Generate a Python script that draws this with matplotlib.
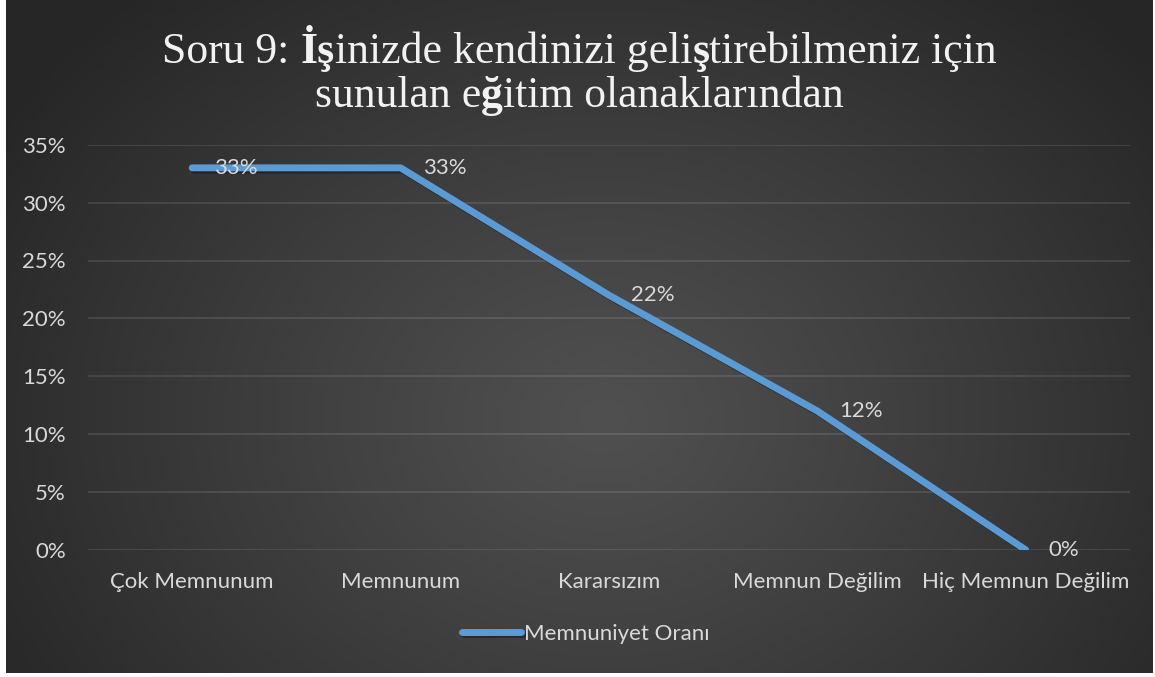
import numpy as np
import matplotlib
matplotlib.use("Agg")
import matplotlib.pyplot as plt
import matplotlib.patheffects as pe
from matplotlib.ticker import PercentFormatter

# ---- data ----
categories = ["Çok Memnunum", "Memnunum", "Kararsızım", "Memnun Değilim", "Hiç Memnun Değilim"]
values = [0.33, 0.33, 0.22, 0.12, 0.0]
value_labels = ["33%", "33%", "22%", "12%", "0%"]
series_name = "Memnuniyet Oranı"
title_line1 = [("Soru 9:", "normal"), (" ", "space"), ("İş", "bold"),
               ("inizde kendinizi geli", "normal"), ("ş", "bold"),
               ("tirebilmeniz için", "normal")]
title_line2 = [("sunulan e", "normal"), ("ğ", "bold"), ("itim olanaklarından", "normal")]
yticks = [0, 0.05, 0.10, 0.15, 0.20, 0.25, 0.30, 0.35]

W, H = 1155, 677
DPI = 100
fig = plt.figure(figsize=(W / DPI, H / DPI), dpi=DPI)
fig.patch.set_facecolor("white")

# ---- radial gradient background ----
bg = fig.add_axes([6 / W, 4 / H, 1147 / W, 673 / H])
bg.set_axis_off()
ny, nx = 340, 580
yy, xx = np.mgrid[0:ny, 0:nx]
cx, cy = nx * 0.52, ny * 0.62
d = np.sqrt(((xx - cx) / (nx * 0.62)) ** 2 + ((yy - cy) / (ny * 0.85)) ** 2)
d = np.clip(d, 0, 1)
g = (80 - 42 * d ** 1.1) / 255.0
img = np.dstack([g, g, g])
bg.imshow(img, aspect="auto", extent=[0, 1, 0, 1], interpolation="bilinear")
bg.set_xlim(0, 1)
bg.set_ylim(0, 1)

# ---- main axes ----
ax_left, ax_right = 88 / W, 1130 / W
ax_bottom, ax_top = (H - 550) / H, (H - 144.7) / H
ax = fig.add_axes([ax_left, ax_bottom, ax_right - ax_left, ax_top - ax_bottom])
ax.set_facecolor("none")
for s in ax.spines.values():
    s.set_visible(False)

FS = 16
TXT = "#d9d9d9"
x = np.arange(len(categories))
line_color = "#5b9bd5"
ax.plot(x, values, color=line_color, lw=5.0, solid_capstyle="round",
        solid_joinstyle="round", label=series_name, zorder=3,
        path_effects=[pe.SimpleLineShadow(offset=(1.5, -1.5), shadow_color="black", alpha=0.35),
                      pe.Normal()])

ax.set_xlim(-0.5, len(categories) - 0.5)
ax.set_ylim(0, 0.35)
ax.set_yticks(yticks)
ax.yaxis.set_major_formatter(PercentFormatter(1.0, decimals=0))
ax.grid(axis="y", color="white", alpha=0.12, lw=1.2)
ax.set_axisbelow(True)
ax.set_xticks(x)
ax.set_xticklabels(categories)

ax.tick_params(axis="both", length=0)
ax.tick_params(axis="y", pad=16)
ax.tick_params(axis="x", pad=16)
for lab in ax.get_xticklabels() + ax.get_yticklabels():
    lab.set_fontfamily("Lato")
    lab.set_fontsize(FS)
    lab.set_color(TXT)

for xi, v, t in zip(x, values, value_labels):
    ax.annotate(t, (xi, v), xytext=(16, 0), textcoords="offset points",
                ha="left", va="center", fontfamily="Lato", fontsize=FS,
                color=TXT, zorder=4)

leg = ax.legend(loc="center", bbox_to_anchor=(586 / W, (H - 634) / H),
                bbox_transform=fig.transFigure, frameon=False,
                handlelength=2.65, handletextpad=0.13,
                prop=dict(family="Lato", size=FS))
for t in leg.get_texts():
    t.set_color(TXT)

# ---- title with mixed weights ----
renderer = fig.canvas.get_renderer()


def draw_line(pieces, ybase_px, size, color="#f2f2f2"):
    texts = []
    widths = []
    probe1 = fig.text(0, 0, "xx", fontsize=size, family="Liberation Serif")
    probe2 = fig.text(0, 0, "x x", fontsize=size, family="Liberation Serif")
    sp = probe2.get_window_extent(renderer).width - probe1.get_window_extent(renderer).width
    probe1.remove()
    probe2.remove()
    for s, kind in pieces:
        if kind == "space":
            texts.append(None)
            widths.append(sp)
            continue
        t = fig.text(0, 1 - ybase_px / H, s, fontsize=size, family="Liberation Serif",
                     fontweight=kind, color=color, ha="left", va="baseline")
        widths.append(t.get_window_extent(renderer).width)
        texts.append(t)
    total = sum(widths)
    xpos = W / 2 + 2 - total / 2
    for t, w in zip(texts, widths):
        if t is not None:
            t.set_x(xpos / W)
        xpos += w
    return total


size = 31.5
draw_line(title_line1, 63, size)
draw_line(title_line2, 107, size)

fig.savefig("out.png", dpi=DPI, facecolor="white")
